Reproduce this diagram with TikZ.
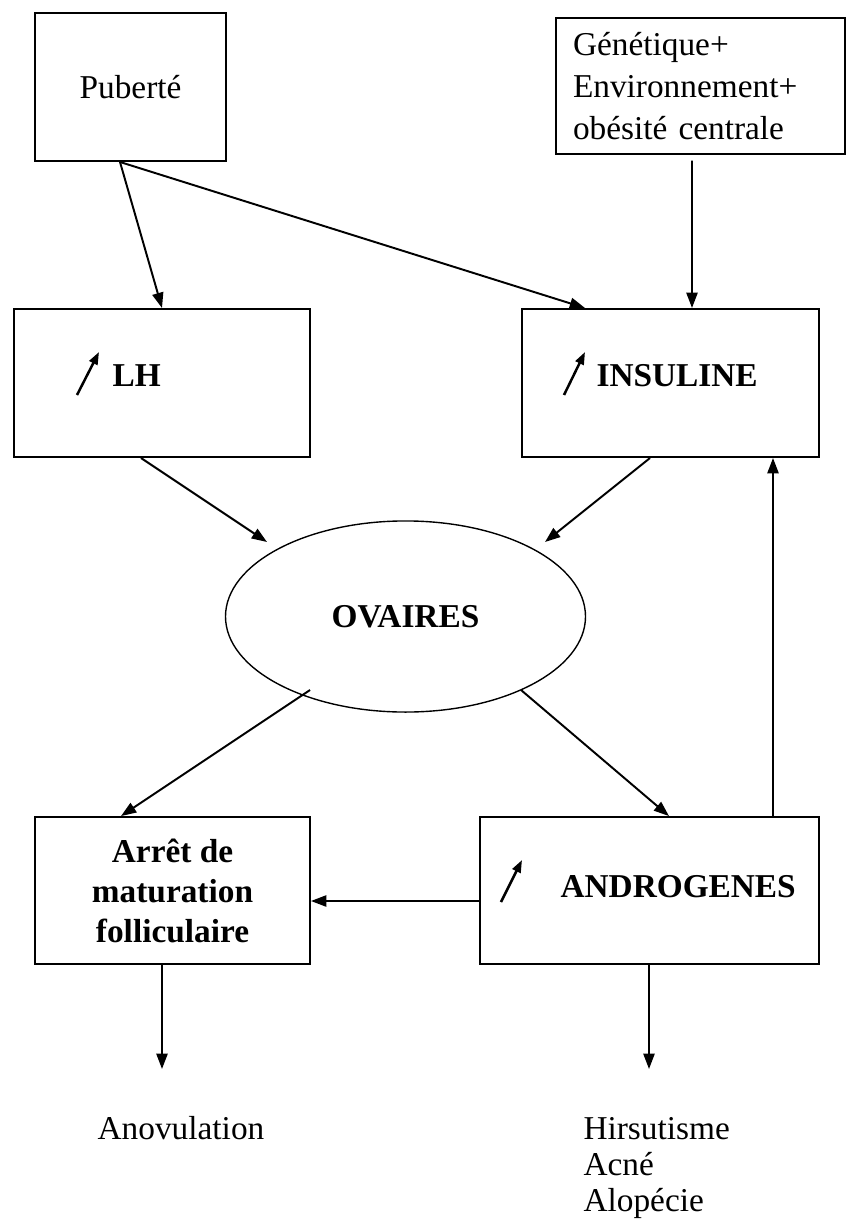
\documentclass[tikz,border=0pt]{standalone}
\usepackage{fontspec}
\setmainfont{Liberation Serif}
\usetikzlibrary{shapes.geometric, arrows.meta, calc}

\tikzset{
  boite/.style={draw, line width=0.7pt, inner sep=0pt, align=center,
                font=\fontsize{12}{14.4}\selectfont},
  fleche/.style={-{Triangle[length=5.5pt, width=4pt]}, line width=0.7pt},
  hausse/.style={-{Triangle[length=4.5pt, width=3.2pt]}, line width=0.9pt},
  txt/.style={inner sep=0pt, font=\fontsize{12}{14.4}\selectfont}
}

\begin{document}
\begin{tikzpicture}[x=0.36pt, y=-0.36pt]
  \useasboundingbox (0,0) rectangle (846,1226);

  % Causes
  \node[boite, minimum width=68.8pt, minimum height=53.3pt] (puberte) at (130.5,87) {Puberté};
  \node[boite, minimum height=49pt, text width=91.8pt, inner xsep=6.1pt, align=left,
        font=\fontsize{12}{15.1}\selectfont] (genet) at (700.5,86)
    {Génétique+\\Environnement+\\obésité centrale};

  % Hormones
  \node[boite, minimum width=106.7pt, minimum height=53.3pt] (lh) at (162,383) {};
  \node[boite, minimum width=106.9pt, minimum height=53.3pt] (insuline) at (670.5,383) {};
  \node[txt, anchor=west, font=\fontsize{12}{14.4}\selectfont\bfseries] (lhtxt) at (112,376) {LH};
  \node[txt, anchor=west, font=\fontsize{12}{14.4}\selectfont\bfseries] (instxt) at (596,376) {INSULINE};
  \draw[hausse] ($(lhtxt.west)+(-35,19)$) -- ++(22,-43);
  \draw[hausse] ($(instxt.west)+(-32,19)$) -- ++(21,-43);

  \node[ellipse, draw, line width=0.5pt, minimum width=129.6pt, minimum height=68.8pt,
        inner sep=0pt, font=\fontsize{12}{14.4}\selectfont\bfseries] (ovaires) at (405.5,616.5) {OVAIRES};

  % Consequences
  \node[boite, minimum width=99pt, minimum height=52.9pt, font=\fontsize{12}{14.4}\selectfont\bfseries]
    (arret) at (172.5,890.5) {Arrêt de\\maturation\\folliculaire};
  \node[boite, minimum width=122pt, minimum height=52.9pt] (andro) at (649.5,890.5) {};
  \node[txt, anchor=west, font=\fontsize{12}{14.4}\selectfont\bfseries] (andtxt) at (560,887) {ANDROGENES};
  \draw[hausse] ($(andtxt.west)+(-59,15)$) -- ++(21,-42);

  \coordinate (anov) at (162,1069);
  \coordinate (hirs) at (649,1069);
  \node[txt] (anovtxt) at (181,1128) {Anovulation};
  \node[txt, anchor=north west, align=left, font=\fontsize{12}{13}\selectfont] (signes) at (583,1117)
    {Hirsutisme\\Acné\\Alopécie};

  % Arrows
  \draw[fleche] ($(puberte.south)+(-10.5,0)$) -- (lh.north);
  \draw[fleche] ($(puberte.south)+(-10.5,0)$) -- ($(insuline.north)+(-85.5,0)$);
  \draw[fleche, shorten <=2pt] ($(genet.south)+(-8.5,0)$) -- ($(insuline.north)+(21.5,0)$);
  \draw[fleche] ($(lh.south)+(-21,0)$) -- ($(ovaires.center)+(-138.5,-74.5)$);
  \draw[fleche] ($(insuline.south)+(-20.5,0)$) -- ($(ovaires.center)+(139.5,-74.5)$);
  \draw[fleche] ($(ovaires.center)+(-95.5,73.5)$) -- ($(arret.north)+(-51.5,0)$);
  \draw[fleche] ($(ovaires.center)+(115.5,73.5)$) -- ($(andro.north)+(19.5,0)$);
  \draw[fleche] ($(andro.west)+(0,10.5)$) -- ($(arret.east)+(0,10.5)$);
  \draw[fleche] ($(andro.north)+(123.5,0)$) -- ($(insuline.south)+(102.5,0)$);
  \foreach \src/\dst in {arret/anov, andro/hirs}
    \draw[fleche] (\src.south -| \dst) -- (\dst);
\end{tikzpicture}
\end{document}
